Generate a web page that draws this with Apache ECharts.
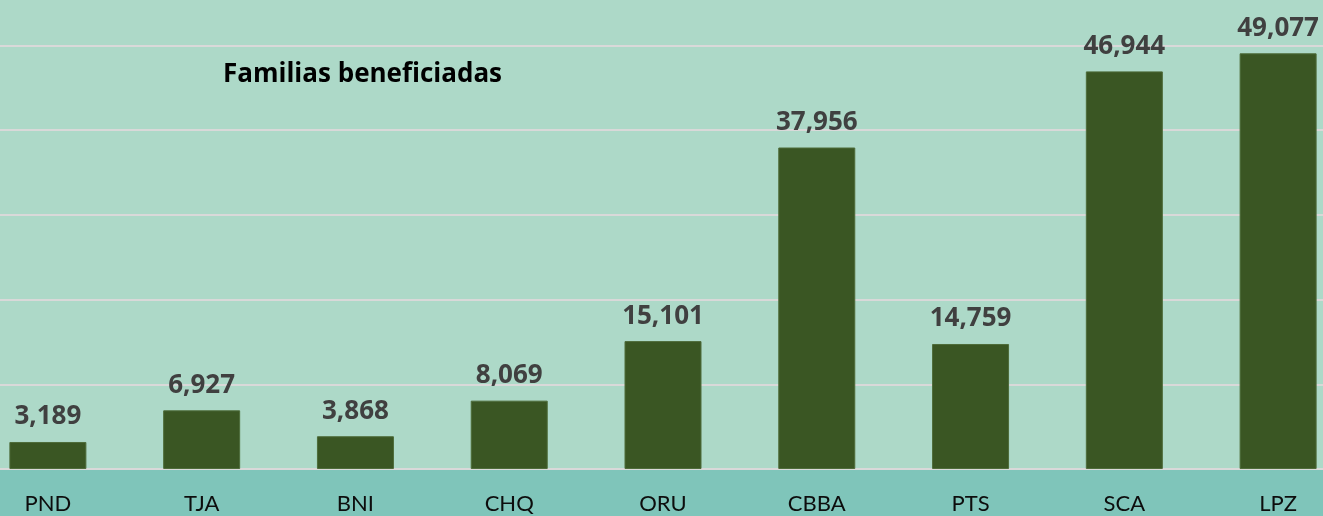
<!DOCTYPE html>
<html>
<head>
<meta charset="utf-8">
<script src="https://cdn.jsdelivr.net/npm/echarts@6/dist/echarts.min.js"></script>
<style>
  html, body { margin: 0; padding: 0; background: #add9c8; overflow: hidden; }
  #chart { width: 1384px; height: 516px; margin-left: -29px; }
</style>
</head>
<body>
<div id="chart"></div>
<script>
var categories = ['PND', 'TJA', 'BNI', 'CHQ', 'ORU', 'CBBA', 'PTS', 'SCA', 'LPZ'];
var familias = [3189, 6927, 3868, 8069, 15101, 37956, 14759, 46944, 49077];
var titulo = 'Familias beneficiadas';

var myChart = echarts.init(document.getElementById('chart'));
var option = {
    backgroundColor: '#add9c8',
    animation: false,
    graphic: [
        {
            type: 'rect',
            left: 0,
            top: 470,
            shape: { width: 1384, height: 46 },
            style: { fill: '#7fc5ba' },
            z: -1
        },
        {
            type: 'text',
            left: 252,
            top: 62,
            style: {
                text: titulo,
                font: 'bold 26px "Open Sans"',
                fill: '#000000'
            }
        }
    ],
    grid: {
        left: 0,
        right: 0,
        top: 45.5,
        bottom: 47
    },
    xAxis: {
        type: 'category',
        data: categories,
        axisLine: { show: false },
        axisTick: { show: false },
        axisLabel: {
            margin: 24,
            fontFamily: 'Lato',
            fontSize: 22,
            color: '#0d0d0d'
        }
    },
    yAxis: {
        type: 'value',
        min: 0,
        max: 50000,
        interval: 10000,
        axisLabel: { show: false },
        axisLine: { show: false },
        axisTick: { show: false },
        splitLine: { lineStyle: { color: '#d9d9d9', width: 2 } }
    },
    series: [
        {
            name: titulo,
            type: 'bar',
            data: familias,
            barWidth: 77,
            itemStyle: {
                color: '#3a5623',
                borderColor: '#4e6c3a',
                borderWidth: 1
            },
            label: {
                show: true,
                position: 'top',
                distance: 12,
                fontFamily: 'Open Sans',
                fontWeight: 'bold',
                fontSize: 26,
                color: '#404040',
                formatter: function (p) {
                    return p.value.toLocaleString('en-US');
                }
            }
        }
    ]
};
myChart.setOption(option);
</script>
</body>
</html>
